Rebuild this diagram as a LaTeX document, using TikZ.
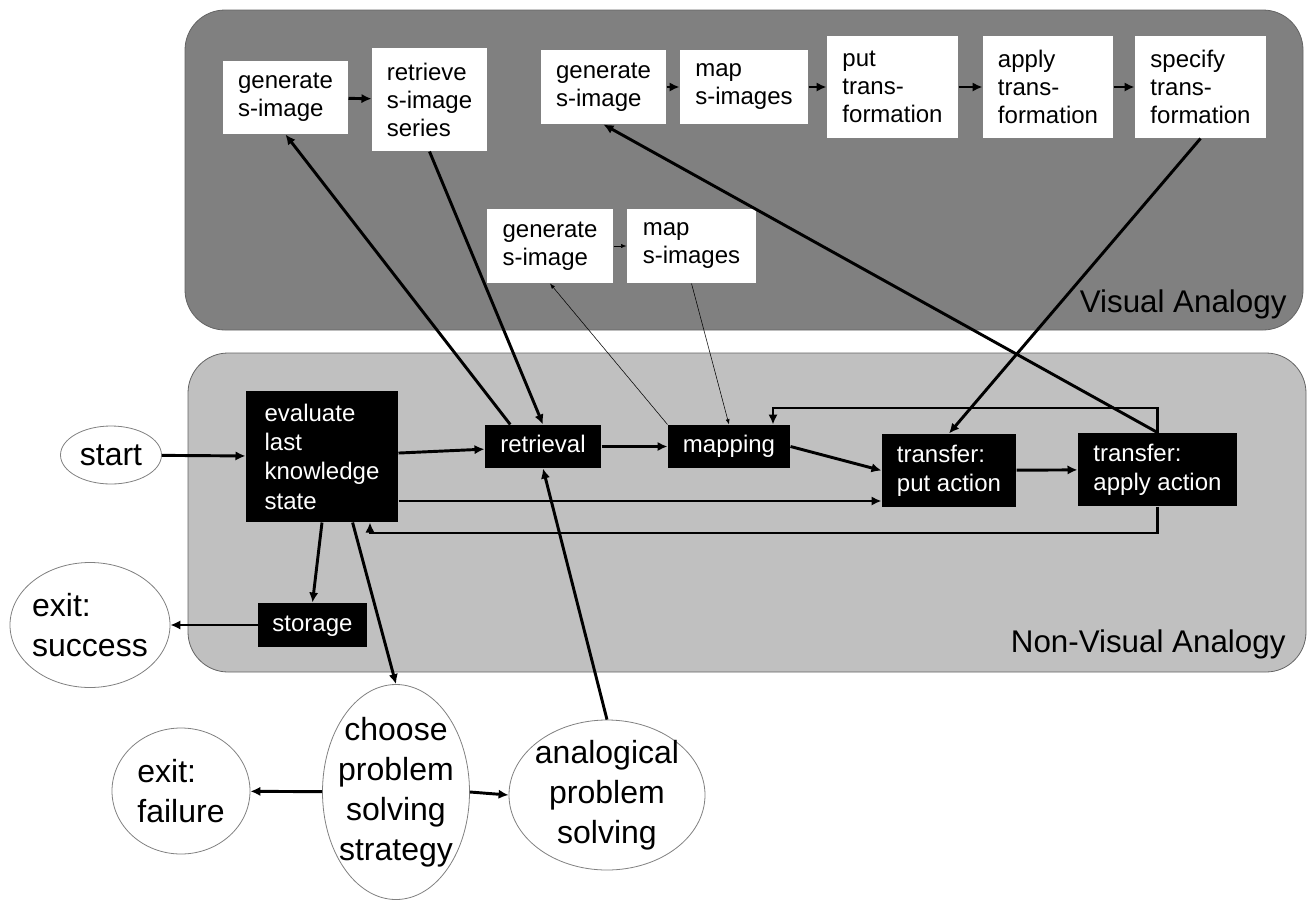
\documentclass[tikz,border=0pt]{standalone}
\usepackage{fontspec}
\setmainfont{Liberation Sans}
\usetikzlibrary{arrows.meta,shapes.geometric,calc}

\definecolor{visgray}{RGB}{128,128,128}
\definecolor{nongray}{RGB}{192,192,192}
\definecolor{rimgray}{RGB}{100,100,100}

\tikzset{every picture/.style={line width=0.75pt}}
\tikzset{
  panel/.style={draw=rimgray, line width=0.6pt, rounded corners=30pt},
  sbox/.style={fill=white, inner sep=2pt, align=left, font=\fontsize{18}{21}\selectfont},
  kbox/.style={fill=black, text=white, inner sep=2pt, align=left, font=\fontsize{18}{22}\selectfont},
  kline/.style={fill=black, text=white, inner sep=2pt, font=\fontsize{18}{22}\selectfont, text height=13pt, text depth=3.6pt},
  oval/.style={ellipse, draw=gray, fill=white, line width=0.6pt, inner sep=0pt},
  ovaltext/.style={inner sep=0pt, font=\fontsize{24}{30}\selectfont},
  paneltext/.style={anchor=base east, inner sep=0pt, font=\fontsize{23.5}{27}\selectfont},
  arr/.style={line width=2.2pt, -{Latex[length=7.5pt,width=7pt]}},
  thinarr/.style={line width=0.4pt, -{Latex[length=4pt,width=3pt]}}
}

\begin{document}
\begin{tikzpicture}[x=0.75pt,y=0.75pt,yscale=-1,xscale=1]
\useasboundingbox (0,0) rectangle (1310,900);

%Shape: Panels
\draw[panel, fill=visgray] (185,10) rectangle (1303,330);
\draw[panel, fill=nongray] (188,353) rectangle (1306,672);

% Text Node
\node[paneltext] (vislbl) at (1287,312) {Visual Analogy};
\node[paneltext] (nonlbl) at (1286,652) {Non-Visual Analogy};

%Visual analogy boxes
\node[sbox, minimum width=93.75pt, minimum height=54.75pt] (gen1) at (285.5,97.5) {generate\\s-image};
\node[sbox, minimum width=86.25pt, minimum height=77.25pt] (retr) at (429.5,99.5) {retrieve\\s-image\\series};
\node[sbox, minimum width=93.75pt, minimum height=55.5pt] (gen2) at (603.5,87) {generate\\s-image};
\node[sbox, minimum width=96pt, minimum height=55.5pt] (map2) at (744,87) {map\\s-images};
\node[sbox, minimum width=98.25pt, minimum height=76.5pt] (put) at (892.5,87) {put\\trans-\\formation};
\node[sbox, minimum width=97.5pt, minimum height=76.5pt] (apply) at (1048,87) {apply\\trans-\\formation};
\node[sbox, minimum width=98.25pt, minimum height=76.5pt] (spec) at (1200.5,87) {specify\\trans-\\formation};
\node[sbox, minimum width=94.5pt, minimum height=55.5pt] (gen3) at (550,246) {generate\\s-image};
\node[sbox, minimum width=96.75pt, minimum height=55.5pt] (map3) at (691.5,246) {map\\s-images};

%Non-visual analogy boxes
\node[kbox, minimum width=114pt, minimum height=98.25pt] (eval) at (322,456.5) {evaluate\\last\\knowledge\\state};
\node[kline, minimum width=87pt, minimum height=32.25pt] (retrieval) at (543,446.5) {retrieval};
\node[kline, minimum width=91.5pt, minimum height=32.25pt] (mapping) at (729,446.5) {mapping};
\node[kbox, minimum width=100.5pt, minimum height=54.75pt] (putact) at (949,470.5) {transfer:\\put action};
\node[kbox, minimum width=119.25pt, minimum height=54.75pt] (applyact) at (1157.5,469.5) {transfer:\\apply action};
\node[kline, minimum width=81.75pt, minimum height=33pt] (storage) at (312.5,625) {storage};

%Ovals
\node[oval, minimum width=75.75pt, minimum height=43.5pt] (start) at (111,455) {};
\node[ovaltext] (start-t) at (start) {start};
\node[oval, minimum width=120pt, minimum height=93.75pt] (success) at (90,625) {};
\node[ovaltext, align=left] (success-t) at (success) {exit:\\success};
\node[oval, minimum width=103.5pt, minimum height=94.5pt] (failure) at (181,791) {};
\node[ovaltext, align=left] (failure-t) at (failure) {exit:\\failure};
\node[oval, minimum width=110.25pt, minimum height=161.25pt] (choose) at (396,792) {};
\node[ovaltext, align=center] (choose-t) at (choose) {choose\\problem\\solving\\strategy};
\node[oval, minimum width=147pt, minimum height=112.5pt] (analog) at (607,795) {};
\node[ovaltext, align=center] (analog-t) at (analog) {analogical\\problem\\solving};

%Route levels
\coordinate (evrow) at (0,501);
\coordinate (lowrt) at (370,533);
\coordinate (hirt) at (773,408);

%Straight Lines
\draw[arr] (gen1) -- (retr);
\draw[arr] (gen2) -- (map2);
\draw[arr] (map2) -- (put);
\draw[arr] (put) -- (apply);
\draw[arr] (apply) -- (spec);
\draw[thinarr] (gen3) -- (map3);

\draw[arr] (start) -- (eval);
\draw[arr] (eval) -- (retrieval);
\draw[arr] (retrieval) -- (mapping);
\draw[arr] (mapping.east) -- (putact.west);
\draw[arr] (putact) -- (applyact);
\draw[arr] (eval.east |- evrow) -- (putact.west |- evrow);
\draw[arr] (applyact.south) |- (lowrt) -- (lowrt |- eval.south);
\draw[arr] (applyact.north) |- (hirt) -- (hirt |- mapping.north);
\draw[arr] (eval.south) -- (storage.north);
\draw[arr] (storage) -- (success);
\draw[arr] ($(eval.south)!0.4!(eval.south east)$) -- (choose.north);
\draw[arr] (choose) -- (failure);
\draw[arr] (choose.east) -- (analog.west);
\draw[arr] (analog.north) -- (retrieval.south);

%Between the panels
\draw[arr] ($(retrieval.north west)!0.22!(retrieval.north east)$) -- (gen1.south);
\draw[arr] (retr.south) -- (retrieval.north);
\draw[thinarr] (mapping.north west) -- (gen3.south);
\draw[thinarr] (map3.south) -- (mapping.north);
\draw[arr] (spec.south) -- (putact.north);
\draw[arr] (applyact.north) -- (gen2.south);

\end{tikzpicture}
\end{document}
